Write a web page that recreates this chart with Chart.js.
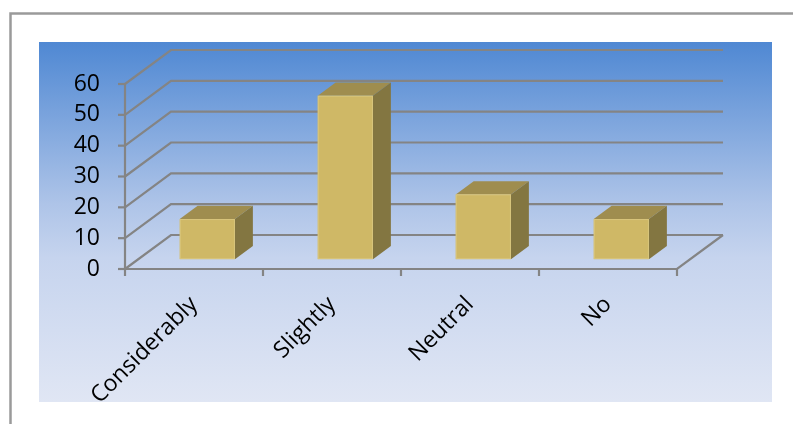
<!DOCTYPE html>
<html>
<head>
<meta charset="utf-8">
<script src="https://cdn.jsdelivr.net/npm/chart.js@4/dist/chart.umd.min.js"></script>
<style>
  html, body { margin: 0; padding: 0; background: #fff; }
  #c { display: block; }
</style>
</head>
<body>
<canvas id="c" width="793" height="424"></canvas>
<script>
// data
const categories = ["Considerably", "Slightly", "Neutral", "No"];
const responses = [13, 53, 21, 13];
const yTicks = [0, 10, 20, 30, 40, 50, 60];

// 3D look: back wall offset, bar front position and bar depth (as part of the wall offset)
const DEPTH = { x: 46, y: -34 };
const BAR_FRONT = 0.29;
const BAR_DEPTH = 0.39;
const GRID = "#848484";

// frame + blue gradient panel behind everything
const backdrop = {
  id: "backdrop",
  beforeDraw(chart) {
    const ctx = chart.ctx;
    ctx.save();
    ctx.fillStyle = "#fff";
    ctx.fillRect(0, 0, chart.width, chart.height);
    ctx.strokeStyle = "#9a9a9a";
    ctx.lineWidth = 2.5;
    ctx.beginPath();
    ctx.moveTo(10.5, chart.height);
    ctx.lineTo(10.5, 13.5);
    ctx.lineTo(chart.width, 13.5);
    ctx.stroke();
    const g = ctx.createLinearGradient(0, 42, 0, 402);
    g.addColorStop(0, "#4f88d3");
    g.addColorStop(0.45, "#aec4e8");
    g.addColorStop(0.6, "#c6d4ee");
    g.addColorStop(1, "#e0e6f4");
    ctx.fillStyle = g;
    ctx.fillRect(39, 42, 733, 360);
    ctx.restore();
  }
};

// walls, floor and axes
const walls = {
  id: "walls",
  beforeDatasetsDraw(chart) {
    const ctx = chart.ctx;
    const xs = chart.scales.x, ys = chart.scales.y;
    const L = xs.left, R = xs.right;
    const y0 = ys.getPixelForValue(0);
    ctx.save();
    ctx.strokeStyle = GRID;
    ctx.lineWidth = 2.2;
    ctx.lineCap = "butt";
    ys.ticks.forEach(t => {
      const py = ys.getPixelForValue(t.value);
      ctx.beginPath();
      ctx.moveTo(L, py);
      ctx.lineTo(L + DEPTH.x, py + DEPTH.y);
      ctx.lineTo(R + DEPTH.x, py + DEPTH.y);
      ctx.stroke();
      // tick mark
      ctx.beginPath();
      ctx.moveTo(L - 7, py);
      ctx.lineTo(L, py);
      ctx.stroke();
    });
    // floor front and right edge
    ctx.beginPath();
    ctx.moveTo(L, y0);
    ctx.lineTo(R, y0);
    ctx.lineTo(R + DEPTH.x, y0 + DEPTH.y);
    ctx.stroke();
    // front value axis
    ctx.beginPath();
    ctx.moveTo(L, ys.top);
    ctx.lineTo(L, y0);
    ctx.stroke();
    // category ticks
    const n = categories.length;
    for (let i = 0; i <= n; i++) {
      const px = L + i * xs.width / n;
      ctx.beginPath();
      ctx.moveTo(px, y0);
      ctx.lineTo(px, y0 + 7);
      ctx.stroke();
    }
    ctx.restore();
  },
  afterDatasetsDraw(chart) {
    const ctx = chart.ctx;
    const meta = chart.getDatasetMeta(0);
    const fx = DEPTH.x * BAR_FRONT, fy = DEPTH.y * BAR_FRONT;
    const dx = DEPTH.x * BAR_DEPTH, dy = DEPTH.y * BAR_DEPTH;
    ctx.save();
    meta.data.forEach(el => {
      const l = el.x - el.width / 2 + fx, r = el.x + el.width / 2 + fx;
      const t = el.y + fy, b = el.base + fy;
      // top
      ctx.fillStyle = "#9f8d4f";
      ctx.beginPath();
      ctx.moveTo(l, t); ctx.lineTo(r, t);
      ctx.lineTo(r + dx, t + dy); ctx.lineTo(l + dx, t + dy);
      ctx.closePath(); ctx.fill();
      // side
      ctx.fillStyle = "#837641";
      ctx.beginPath();
      ctx.moveTo(r, t); ctx.lineTo(r + dx, t + dy);
      ctx.lineTo(r + dx, b + dy); ctx.lineTo(r, b);
      ctx.closePath(); ctx.fill();
      // front
      ctx.fillStyle = "#cfb866";
      ctx.fillRect(l, t, r - l, b - t);
      ctx.strokeStyle = "#d8c57d";
      ctx.lineWidth = 1;
      ctx.strokeRect(l + 0.5, t + 0.5, r - l - 1, b - t - 1);
    });
    ctx.restore();
  }
};

new Chart(document.getElementById("c"), {
  type: "bar",
  data: {
    labels: categories,
    datasets: [{
      data: responses,
      backgroundColor: "rgba(0,0,0,0)",
      borderWidth: 0,
      categoryPercentage: 1,
      barPercentage: 0.4
    }]
  },
  options: {
    responsive: false,
    animation: false,
    events: [],
    layout: { padding: { left: 0, top: 84, right: 116, bottom: 0 } },
    plugins: { legend: { display: false }, tooltip: { enabled: false } },
    scales: {
      x: {
        offset: true,
        grid: { display: false, drawTicks: false },
        border: { display: false },
        afterFit: s => { s.height = 155; },
        ticks: {
          minRotation: 45, maxRotation: 45,
          autoSkip: false,
          padding: 22,
          color: "#000",
          font: { family: "Open Sans", size: 23 }
        }
      },
      y: {
        min: 0, max: 60,
        grid: { display: false, drawTicks: false },
        border: { display: false },
        afterFit: s => { s.width = 125; },
        afterBuildTicks: s => { s.ticks = yTicks.map(v => ({ value: v })); },
        ticks: {
          autoSkip: false,
          padding: 25,
          color: "#000",
          font: { family: "Open Sans", size: 23 }
        }
      }
    }
  },
  plugins: [backdrop, walls]
});
</script>
</body>
</html>
